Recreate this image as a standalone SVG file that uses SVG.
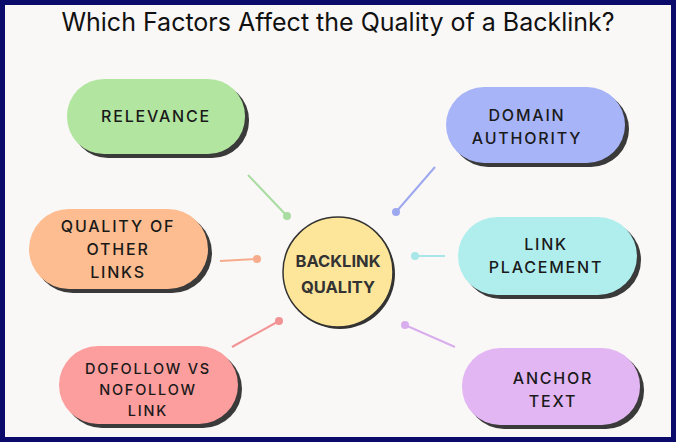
<svg xmlns="http://www.w3.org/2000/svg" width="676" height="442" viewBox="0 0 676 442">
<style>
.sh{fill:#3a3a3a}
.t{font-family:"Inter","Liberation Sans",sans-serif;font-size:16px;letter-spacing:1.8px;fill:#1a1a1a;text-anchor:middle;font-weight:500}
.c{stroke-width:2;fill:none}
</style>
<rect x="0" y="0" width="676" height="442" fill="#0b0b6b"/>
<rect x="5" y="5" width="666" height="432" fill="#faf8f6"/>
<text x="338" y="31" font-family="Inter,'Liberation Sans',sans-serif" font-size="25" text-anchor="middle" fill="#111">Which Factors Affect the Quality of a Backlink?</text>
<g id="connectors">
<line class="c" x1="248" y1="175" x2="287" y2="216" stroke="#a8dca0"/><circle cx="287" cy="216" r="4" fill="#a8dca0"/>
<line class="c" x1="220" y1="261" x2="257" y2="259" stroke="#f6ac8c"/><circle cx="257" cy="259" r="4" fill="#f6ac8c"/>
<line class="c" x1="232" y1="347" x2="279" y2="321" stroke="#f29494"/><circle cx="279" cy="321" r="4" fill="#f29494"/>
<line class="c" x1="435" y1="167" x2="396" y2="212" stroke="#9ea8ef"/><circle cx="396" cy="212" r="4" fill="#9ea8ef"/>
<line class="c" x1="445" y1="256" x2="415" y2="256" stroke="#a8e6e8"/><circle cx="415" cy="256" r="4" fill="#a8e6e8"/>
<line class="c" x1="455" y1="347" x2="405" y2="325" stroke="#d8aeee"/><circle cx="405" cy="325" r="4" fill="#d8aeee"/>
</g>
<g id="relevance"><rect class="sh" x="71" y="83" width="178" height="75" rx="37"/><rect x="67" y="79" width="178" height="75" rx="37" fill="#b2e6a0"/><text class="t" x="156" y="122">RELEVANCE</text></g>
<g id="quality-other"><rect class="sh" x="33" y="213" width="179" height="80" rx="40"/><rect x="29" y="209" width="179" height="80" rx="40" fill="#fdbd90"/><text class="t" x="118" y="232">QUALITY OF</text><text class="t" x="118" y="255">OTHER</text><text class="t" x="118" y="278">LINKS</text></g>
<g id="dofollow"><rect class="sh" x="63" y="350" width="179" height="78" rx="39"/><rect x="59" y="346" width="179" height="78" rx="39" fill="#fd9e9e"/><text class="t" x="148" y="374" style="font-size:14.5px">DOFOLLOW VS</text><text class="t" x="148" y="395" style="font-size:14.5px">NOFOLLOW</text><text class="t" x="148" y="416" style="font-size:14.5px">LINK</text></g>
<g id="domain"><rect class="sh" x="450" y="91" width="179" height="76" rx="38"/><rect x="446" y="87" width="179" height="76" rx="38" fill="#a8b4f8"/><text class="t" x="527" y="121">DOMAIN</text><text class="t" x="527" y="144">AUTHORITY</text></g>
<g id="placement"><rect class="sh" x="462" y="221" width="179" height="78" rx="39"/><rect x="458" y="217" width="179" height="78" rx="39" fill="#b0eeee"/><text class="t" x="546" y="250">LINK</text><text class="t" x="546" y="273">PLACEMENT</text></g>
<g id="anchor"><rect class="sh" x="466" y="352" width="178" height="77" rx="38"/><rect x="462" y="348" width="178" height="77" rx="38" fill="#e2b6f2"/><text class="t" x="553" y="384">ANCHOR</text><text class="t" x="553" y="407">TEXT</text></g>
<g id="center"><circle cx="340" cy="274" r="55" fill="#333"/><circle cx="338" cy="272" r="55" fill="#fde69a" stroke="#333" stroke-width="1.5"/><text x="338" y="267" font-family="Inter,'Liberation Sans',sans-serif" font-size="16.5" font-weight="700" text-anchor="middle" fill="#333">BACKLINK</text><text x="338" y="293" font-family="Inter,'Liberation Sans',sans-serif" font-size="16.5" font-weight="700" text-anchor="middle" fill="#333">QUALITY</text></g>
</svg>
